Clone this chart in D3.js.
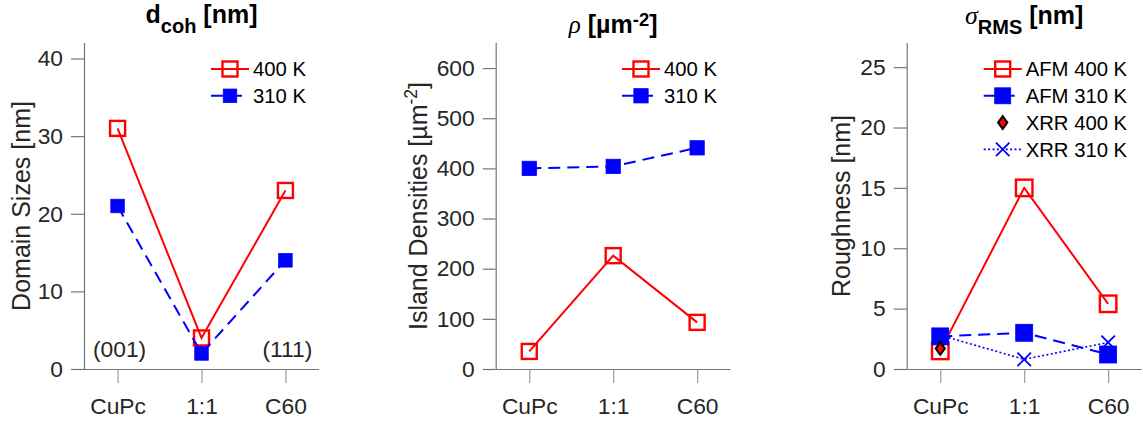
<!DOCTYPE html>
<html>
<head>
<meta charset="utf-8">
<script src="https://cdn.jsdelivr.net/npm/d3@7"></script>
<style>
  html, body { margin: 0; padding: 0; background: #fff; }
  svg { display: block; font-family: "Liberation Sans", Arial, Helvetica, sans-serif; }
</style>
</head>
<body>
<svg id="fig" width="1143" height="426"></svg>
<script>
// Sample categories shared by all three panels
const categories = ["CuPc", "1:1", "C60"];

// Coherent domain sizes d_coh [nm]
const domain400 = [31, 4, 23];
const domain310 = [21, 2, 14];
const domainTicks = [0, 10, 20, 30, 40];

// Island densities rho [um^-2]
const density400 = [35, 226, 93];
const density310 = [400, 404, 441];
const densityTicks = [0, 100, 200, 300, 400, 500, 600];

// RMS roughness [nm]
const roughAfm400 = [1.5, 15.0, 5.4];
const roughAfm310 = [2.7, 3.0, 1.2];
const roughXrr400 = [1.7];          // measured for CuPc only
const roughXrr310 = [2.8, 0.8, 2.2];
const roughTicks = [0, 5, 10, 15, 20, 25];

// Reflex annotations in the domain-size panel
const reflexLabels = [{cat: "CuPc", text: "(001)"}, {cat: "C60", text: "(111)"}];

const svg = d3.select("#fig");
const TOP = 43, BOTTOM = 369;
const AXIS = "#767676", TICKX = "#9a9a9a", TXT = "#262626";
const RED = "#ff0000", BLUE = "#0000ff";

const styles = {
  red:  {stroke: RED, width: 2, dash: null},
  blue: {stroke: BLUE, width: 2, dash: "12,7"},
  dot:  {stroke: BLUE, width: 1.6, dash: "2,2.4"}
};

function marker(g, type, x, y, size) {
  const h = size / 2;
  if (type === "openSquare") {
    g.append("rect").attr("x", x - h).attr("y", y - h).attr("width", size).attr("height", size)
      .attr("fill", "none").attr("stroke", RED).attr("stroke-width", 2.4);
  } else if (type === "square") {
    g.append("rect").attr("x", x - h).attr("y", y - h).attr("width", size).attr("height", size)
      .attr("fill", BLUE).attr("stroke", BLUE).attr("stroke-width", 0.8);
  } else if (type === "diamond") {
    const w = 4.6, v = 6.4;
    g.append("path").attr("d", `M${x},${y - v}L${x + w},${y}L${x},${y + v}L${x - w},${y}Z`)
      .attr("fill", RED).attr("stroke", "#000").attr("stroke-width", 2);
  } else if (type === "cross") {
    g.append("path").attr("d", `M${x - h},${y - h}L${x + h},${y + h}M${x - h},${y + h}L${x + h},${y - h}`)
      .attr("stroke", BLUE).attr("stroke-width", 1.8).attr("fill", "none");
  }
}

function panel(cfg) {
  const g = svg.append("g");
  const x = d3.scalePoint().domain(categories).range([cfg.left, cfg.left + 235]).padding(0.4);
  const y = d3.scaleLinear().domain([0, cfg.ymax]).range([BOTTOM, TOP]);

  // y axis with outward ticks
  const yAxis = g.append("g").attr("transform", `translate(${cfg.left},0)`)
    .call(d3.axisLeft(y).tickValues(cfg.ticks).tickSize(13).tickPadding(8).tickSizeOuter(0));
  yAxis.select(".domain").attr("stroke", AXIS).attr("stroke-width", 1.2)
    .attr("d", `M0.5,${TOP}V${BOTTOM}`);
  yAxis.selectAll(".tick line").attr("stroke", AXIS).attr("stroke-width", 1.2);
  yAxis.selectAll(".tick text").attr("fill", TXT).attr("font-size", 22.8)
    .attr("font-family", "Liberation Sans, Arial, sans-serif");

  // x axis with category ticks below
  const xAxis = g.append("g").attr("transform", `translate(0,${BOTTOM})`)
    .call(d3.axisBottom(x).tickSize(14).tickPadding(15).tickSizeOuter(0));
  xAxis.select(".domain").attr("stroke", AXIS).attr("stroke-width", 1.2)
    .attr("d", `M${cfg.left},0.5H${cfg.left + 235}`);
  xAxis.selectAll(".tick line").attr("stroke", TICKX).attr("stroke-width", 1.2);
  xAxis.selectAll(".tick text").attr("fill", TXT).attr("font-size", 22.8)
    .attr("font-family", "Liberation Sans, Arial, sans-serif");

  // series
  cfg.series.forEach(s => {
    const pts = s.values.map((v, i) => [x(categories[i]), y(v)]);
    if (s.line) {
      const st = styles[s.line];
      g.append("path").attr("d", d3.line()(pts)).attr("fill", "none")
        .attr("stroke", st.stroke).attr("stroke-width", st.width)
        .attr("stroke-dasharray", st.dash);
    }
    pts.forEach(p => marker(g, s.marker, p[0], p[1], s.size));
  });

  // legend
  cfg.series.forEach((s, i) => {
    const ty = 69 + i * 26.8;
    const tx = cfg.legendX;
    if (s.line) {
      const st = styles[s.line];
      g.append("line").attr("x1", tx - 42).attr("x2", tx - 4).attr("y1", ty).attr("y2", ty)
        .attr("stroke", st.stroke).attr("stroke-width", st.width)
        .attr("stroke-dasharray", st.dash);
    }
    marker(g, s.marker, tx - 23, ty, s.legendSize || s.size);
    g.append("text").attr("x", tx).attr("y", ty).attr("dy", "0.36em")
      .attr("font-size", 20.3).attr("fill", "#000").text(s.name);
  });

  // y label
  const yl = g.append("text")
    .attr("transform", `translate(${cfg.ylabelX},206) rotate(-90)`)
    .attr("text-anchor", "middle").attr("font-size", 25).attr("fill", TXT);
  cfg.ylabel(yl);

  // title
  const t = g.append("text").attr("x", cfg.left + 117.5).attr("y", cfg.titleY)
    .attr("text-anchor", "middle").attr("font-weight", "bold").attr("font-size", 25).attr("fill", "#000");
  cfg.title(t);

  return {g, x, y};
}

// Panel 1: domain sizes
const p1 = panel({
  left: 84, ymax: 42, ticks: domainTicks, legendX: 253, ylabelX: 29.5, titleY: 22.7,
  series: [
    {name: "400 K", values: domain400, line: "red", marker: "openSquare", size: 15},
    {name: "310 K", values: domain310, line: "blue", marker: "square", size: 13.5}
  ],
  ylabel: t => t.text("Domain Sizes [nm]"),
  title: t => {
    t.append("tspan").text("d");
    t.append("tspan").attr("font-size", 20).attr("dy", 10.5).text("coh");
    t.append("tspan").attr("dy", -10.5).text(" [nm]");
  }
});
p1.g.selectAll(".reflex").data(reflexLabels).join("text")
  .attr("class", "reflex")
  .attr("x", d => p1.x(d.cat) + 2).attr("y", 357)
  .attr("text-anchor", "middle").attr("font-size", 22.8).attr("fill", TXT)
  .text(d => d.text);

// Panel 2: island densities
panel({
  left: 495.7, ymax: 650, ticks: densityTicks, legendX: 664, ylabelX: 426.5, titleY: 33.3,
  series: [
    {name: "400 K", values: density400, line: "red", marker: "openSquare", size: 15},
    {name: "310 K", values: density310, line: "blue", marker: "square", size: 14.3}
  ],
  ylabel: t => {
    t.append("tspan").text("Island Densities [µm");
    t.append("tspan").attr("font-size", 17.5).attr("dy", -10).text("-2");
    t.append("tspan").attr("dy", 10).text("]");
  },
  title: t => {
    t.append("tspan").attr("font-family", "Liberation Serif, Times New Roman, serif")
      .attr("font-style", "italic").attr("font-weight", "normal").text("ρ");
    t.append("tspan").text(" [µm");
    t.append("tspan").attr("font-size", 18.5).attr("dy", -7).text("-2");
    t.append("tspan").attr("dy", 7).text("]");
  }
});

// Panel 3: roughness
panel({
  left: 906.7, ymax: 27, ticks: roughTicks, legendX: 1025.7, ylabelX: 850, titleY: 24,
  series: [
    {name: "AFM 400 K", values: roughAfm400, line: "red", marker: "openSquare", size: 16.5, legendSize: 15},
    {name: "AFM 310 K", values: roughAfm310, line: "blue", marker: "square", size: 17, legendSize: 16},
    {name: "XRR 400 K", values: roughXrr400, line: null, marker: "diamond", size: 10},
    {name: "XRR 310 K", values: roughXrr310, line: "dot", marker: "cross", size: 13.5}
  ],
  ylabel: t => t.text("Roughness [nm]"),
  title: t => {
    t.append("tspan").attr("font-family", "Liberation Serif, Times New Roman, serif")
      .attr("font-style", "italic").attr("font-weight", "normal").attr("font-size", 26).text("σ");
    t.append("tspan").attr("font-size", 20).attr("dy", 10).text("RMS");
    t.append("tspan").attr("dy", -10).text(" [nm]");
  }
});
</script>
</body>
</html>
